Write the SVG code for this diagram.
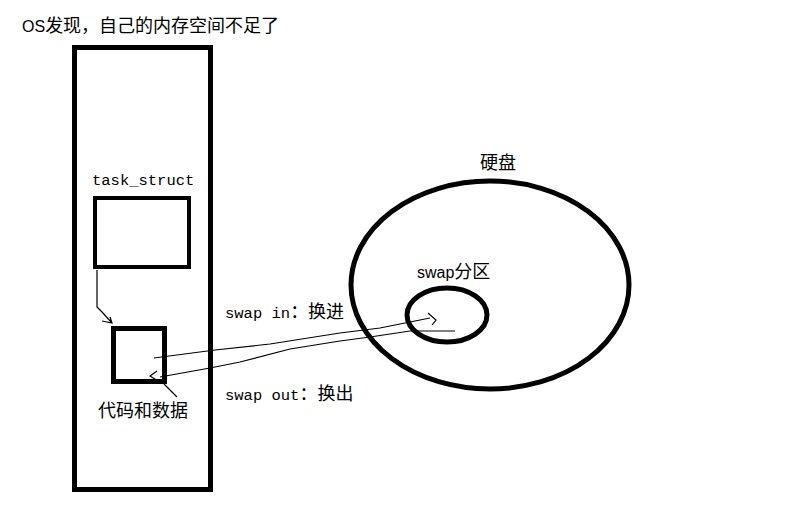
<svg xmlns="http://www.w3.org/2000/svg" width="785" height="514" viewBox="0 0 785 514">
<style>
.box{fill:none;stroke:#000}
.ln{fill:none;stroke:#000;stroke-width:1.2}
.t{font-family:"Liberation Mono","Noto Sans CJK SC",monospace;font-size:15.5px;fill:#000}
.c{font-family:"Noto Sans CJK SC",sans-serif;font-size:18px}
</style>
<rect width="785" height="514" fill="#fff"/>
<g id="title"><text class="t" x="22" y="32"><tspan font-family="Liberation Sans, sans-serif" font-size="16">OS</tspan><tspan class="c" font-size="18.8">发现，自己的内存空间不足了</tspan></text></g>
<g id="memory"><rect class="box" x="74.5" y="47.5" width="136" height="442" stroke-width="5"/></g>
<g id="task_struct"><rect class="box" x="95" y="198" width="94" height="69" stroke-width="4"/><text class="t" x="92" y="185">task_struct</text></g>
<g id="code_data"><rect class="box" x="113.5" y="328.5" width="51" height="53" stroke-width="5"/><text class="t c" x="98" y="417" font-size="18.5">代码和数据</text></g>
<g id="disk"><ellipse class="box" cx="490" cy="285" rx="139" ry="104" stroke-width="5"/><text class="t c" x="480" y="169">硬盘</text></g>
<g id="swap"><ellipse class="box" cx="447" cy="315" rx="40" ry="27" stroke-width="5"/><text class="t" x="417" y="278"><tspan font-family="Liberation Sans, sans-serif" font-size="16">swap</tspan><tspan class="c">分区</tspan></text></g>
<g id="labels"><text class="t" x="225" y="318">swap in<tspan class="c">：换进</tspan></text><text class="t" x="225" y="400">swap out<tspan class="c">：换出</tspan></text></g>
<g id="connectors">
<path class="ln" d="M97,270 L97,307 L102,312 L112,323 M102,321 L112,323 L110,317"/>
<path class="ln" d="M154,358 L215,350 L270,344 L340,333 L380,328 L410,322 L430,318 M428,313 L436,320 L432,325"/>
<path class="ln" d="M455,331 L410,331 L370,337 L340,341 L290,349 L240,362 L210,368 L160,377 M157,371 L150,376 L158,381"/>
<path class="ln" d="M164,384 L177,397"/>
</g>
</svg>
